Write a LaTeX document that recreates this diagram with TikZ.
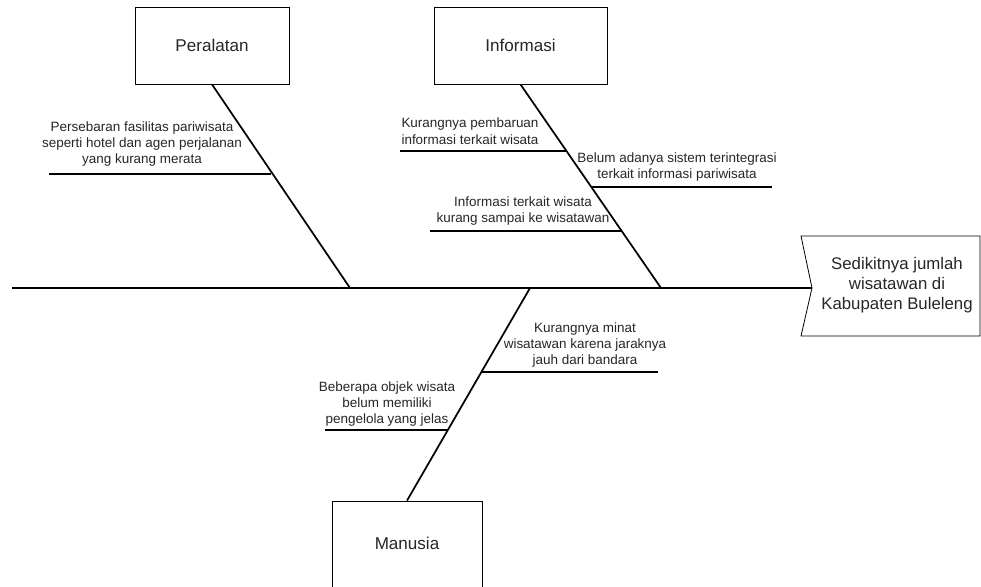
\documentclass[tikz,border=0pt]{standalone}
\usepackage{fontspec}
\setmainfont{Liberation Sans}
\usetikzlibrary{positioning}
\tikzstyle{category}=[fill=white, draw=black, line width=0.6pt, shape=rectangle, minimum width=115.5pt, minimum height=57.75pt, font=\fontsize{12.8}{15}\selectfont, text=black!85]
\tikzstyle{cause}=[align=center, inner sep=0pt, font=\fontsize{10.1}{12.3}\selectfont, text=black!85]
\tikzstyle{effect}=[align=center, inner sep=0pt, font=\fontsize{12.6}{15}\selectfont, text=black!85]
\tikzstyle{bone}=[draw=black, line width=1.3pt]
\tikzstyle{twig}=[draw=black, line width=1.1pt]

\begin{document}
\begin{tikzpicture}[x=0.75pt, y=-0.75pt]
	\useasboundingbox (0,0) rectangle (981,586);
	% categories
	\node [style=category] (peralatan) at (212, 45.5) {Peralatan};
	\node [style=category, minimum width=129.75pt] (informasi) at (520.5, 45.5) {Informasi};
	\node [style=category, minimum width=112.5pt, minimum height=70.5pt,
		label={[font=\fontsize{12.8}{15}\selectfont, text=black!85, yshift=3.75pt]center:Manusia}] (manusia) at (407, 548) {};
	% spine
	\coordinate (tail) at (12, 288);
	\coordinate (notch) at (812, 288);
	\coordinate (c1) at (350, 288);
	\coordinate (c2) at (661, 288);
	\coordinate (c3) at (530, 288);
	\draw [style=bone] (tail) to (notch);
	\draw [style=bone] (peralatan.south) to (c1);
	\draw [style=bone] (informasi.south) to (c2);
	\draw [style=bone] (manusia.north) to (c3);
	% head
	\draw [line width=0.6pt] (801, 236) -- (980, 236) -- (980, 336) -- (801, 336) -- (notch) -- cycle;
	\node [style=effect] (akibat) at (897, 285) {Sedikitnya jumlah\\wisatawan di\\Kabupaten Buleleng};
	% causes
	\coordinate (b1s) at (49, 174);
	\coordinate (b1e) at (271, 174);
	\coordinate (b2s) at (400, 151);
	\coordinate (b2e) at (566, 151);
	\coordinate (b3s) at (591, 187);
	\coordinate (b3e) at (772, 187);
	\coordinate (b4s) at (430, 231);
	\coordinate (b4e) at (621, 231);
	\coordinate (b5s) at (482, 372);
	\coordinate (b5e) at (658, 372);
	\coordinate (b6s) at (325, 430);
	\coordinate (b6e) at (448, 430);
	\draw [style=twig] (b1s) to (b1e);
	\draw [style=twig] (b2s) to (b2e);
	\draw [style=twig] (b3s) to (b3e);
	\draw [style=twig] (b4s) to (b4e);
	\draw [style=twig] (b5s) to (b5e);
	\draw [style=twig] (b6s) to (b6e);
	\node [style=cause] (t1) at (142, 144) {Persebaran fasilitas pariwisata\\seperti hotel dan agen perjalanan\\yang kurang merata};
	\node [style=cause] (t2) at (470, 131) {Kurangnya pembaruan\\informasi terkait wisata};
	\node [style=cause] (t3) at (677, 167) {Belum adanya sistem terintegrasi\\terkait informasi pariwisata};
	\node [style=cause] (t4) at (523, 211) {Informasi terkait wisata\\kurang sampai ke wisatawan};
	\node [style=cause] (t5) at (585, 345) {Kurangnya minat\\wisatawan karena jaraknya\\jauh dari bandara};
	\node [style=cause] (t6) at (387, 404) {Beberapa objek wisata\\belum memiliki\\pengelola yang jelas};
\end{tikzpicture}
\end{document}
